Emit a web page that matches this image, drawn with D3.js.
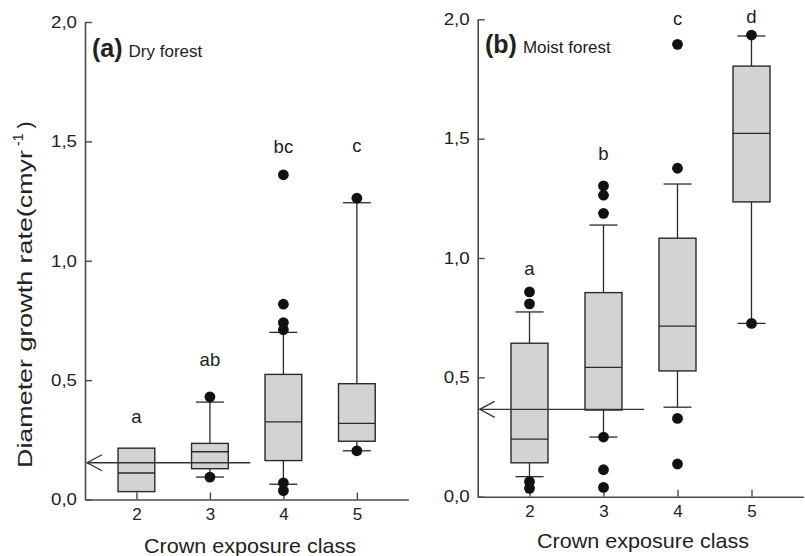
<!DOCTYPE html>
<html>
<head>
<meta charset="utf-8">
<script src="https://cdn.jsdelivr.net/npm/d3@7"></script>
<style>
  html, body { margin: 0; padding: 0; background: #fff; }
  text { font-family: "Liberation Sans", Arial, Helvetica, sans-serif; fill: #222; }
</style>
</head>
<body>
<svg id="chart" width="805" height="556"></svg>
<script>
// ---- data ----
const classes = [2, 3, 4, 5];
const yTicks = [0, 0.5, 1.0, 1.5, 2.0];
const yTickLabels = ["0,0", "0,5", "1,0", "1,5", "2,0"];

// (a) Dry forest
const dryQ1 = [0.033, 0.129, 0.163, 0.244];
const dryMedian = [0.111, 0.200, 0.325, 0.319];
const dryQ3 = [0.215, 0.235, 0.524, 0.485];
const dryLowWhisker = [0.033, 0.094, 0.064, 0.204];
const dryHighWhisker = [0.215, 0.408, 0.700, 1.243];
const dryOutliers = [[], [0.430, 0.094], [1.360, 0.818, 0.741, 0.711, 0.070, 0.037], [1.262, 0.204]];
const dryLetters = ["a", "ab", "bc", "c"];
const dryLetterY = [0.32, 0.56, 1.45, 1.456];
const dryMean = 0.154;

// (b) Moist forest
const moistQ1 = [0.142, 0.363, 0.527, 1.235];
const moistMedian = [0.241, 0.542, 0.715, 1.522];
const moistQ3 = [0.643, 0.855, 1.083, 1.804];
const moistLowWhisker = [0.084, 0.250, 0.375, 0.726];
const moistHighWhisker = [0.774, 1.138, 1.310, 1.930];
const moistOutliers = [[0.858, 0.808, 0.063, 0.035], [1.302, 1.263, 1.187, 0.250, 0.113, 0.039], [1.895, 1.376, 0.328, 0.137], [1.934, 0.726]];
const moistLetters = ["a", "b", "c", "d"];
const moistLetterY = [0.929, 1.409, 1.976, 1.984];
const moistMean = 0.366;

const svg = d3.select("#chart");
const axisColor = "#4a4a4a";
const boxStroke = "#2a2a2a";

function panel(cfg) {
  const x = d3.scaleLinear().domain([1.3, 5.7]).range([cfg.x0, cfg.x1]);
  const y = d3.scaleLinear().domain([0, 2]).range([cfg.y0, cfg.y1]);
  const g = svg.append("g");

  // axes
  const xAxis = d3.axisBottom(x).tickValues(classes).tickSize(-7).tickPadding(8).tickSizeOuter(0).tickFormat(d3.format("d"));
  const gx = g.append("g").attr("transform", `translate(0,${cfg.y0})`).call(xAxis);
  const yAxis = d3.axisLeft(y).tickValues(yTicks).tickSize(-7).tickPadding(8).tickSizeOuter(0)
    .tickFormat((d, i) => yTickLabels[i]);
  const gy = g.append("g").attr("transform", `translate(${cfg.x0},0)`).call(yAxis);
  [gx, gy].forEach(a => {
    a.select(".domain").attr("stroke", axisColor).attr("stroke-width", 1.6);
    a.selectAll(".tick line").attr("stroke", axisColor).attr("stroke-width", 1.4);
    a.selectAll(".tick text").attr("fill", "#222")
      .style("font-family", "Liberation Sans, Arial, sans-serif");
  });
  gx.selectAll(".tick text").style("font-size", "17px").attr("dy", "0.75em");
  gy.selectAll(".tick text").style("font-size", "16.5px")
    .attr("textLength", 26).attr("lengthAdjust", "spacingAndGlyphs");

  const half = (x(2.25) - x(1.75)) / 2;
  const capHalf = 14;

  classes.forEach((c, i) => {
    const cx = x(c);
    // whiskers
    if (cfg.hi[i] > cfg.q3[i]) {
      g.append("line").attr("x1", cx).attr("x2", cx).attr("y1", y(cfg.q3[i])).attr("y2", y(cfg.hi[i]))
        .attr("stroke", boxStroke).attr("stroke-width", 1.3);
      g.append("line").attr("x1", cx - capHalf).attr("x2", cx + capHalf).attr("y1", y(cfg.hi[i])).attr("y2", y(cfg.hi[i]))
        .attr("stroke", boxStroke).attr("stroke-width", 1.3);
    }
    if (cfg.lo[i] < cfg.q1[i]) {
      g.append("line").attr("x1", cx).attr("x2", cx).attr("y1", y(cfg.q1[i])).attr("y2", y(cfg.lo[i]))
        .attr("stroke", boxStroke).attr("stroke-width", 1.3);
      g.append("line").attr("x1", cx - capHalf).attr("x2", cx + capHalf).attr("y1", y(cfg.lo[i])).attr("y2", y(cfg.lo[i]))
        .attr("stroke", boxStroke).attr("stroke-width", 1.3);
    }
    // box
    g.append("rect").attr("x", cx - half).attr("width", 2 * half)
      .attr("y", y(cfg.q3[i])).attr("height", y(cfg.q1[i]) - y(cfg.q3[i]))
      .attr("fill", "#d3d3d3").attr("stroke", boxStroke).attr("stroke-width", 1.4);
    g.append("line").attr("x1", cx - half).attr("x2", cx + half).attr("y1", y(cfg.med[i])).attr("y2", y(cfg.med[i]))
      .attr("stroke", boxStroke).attr("stroke-width", 1.3);
    // outliers
    cfg.out[i].forEach(v => {
      g.append("circle").attr("cx", cx).attr("cy", y(v)).attr("r", 5.4).attr("fill", "#111");
    });
    // letters
    g.append("text").attr("x", cx).attr("y", y(cfg.letY[i])).attr("text-anchor", "middle")
      .style("font-size", "18.5px").text(cfg.letters[i]);
  });

  // mean arrow
  const ym = y(cfg.mean);
  g.append("line").attr("x1", cfg.x0 + 2).attr("x2", x(3.55)).attr("y1", ym).attr("y2", ym)
    .attr("stroke", "#333").attr("stroke-width", 1.4);
  g.append("path").attr("d", `M${cfg.x0 + 17},${ym - 8} L${cfg.x0 + 2},${ym} L${cfg.x0 + 17},${ym + 8}`)
    .attr("fill", "none").attr("stroke", "#333").attr("stroke-width", 1.3);

  // title
  const t = g.append("text").attr("x", cfg.tx).attr("y", cfg.ty);
  t.append("tspan").style("font-weight", "bold").style("font-size", "25px").text(cfg.tag);
  t.append("tspan").attr("dx", 6).style("font-size", "17px").text(cfg.title);

  // x title
  g.append("text").attr("x", cfg.xtx).attr("y", cfg.xty).attr("text-anchor", "middle")
    .style("font-size", "21px").attr("textLength", 212).attr("lengthAdjust", "spacingAndGlyphs")
    .text("Crown exposure class");
}

panel({ x0: 85, x1: 408.3, y0: 499.5, y1: 22,
  q1: dryQ1, med: dryMedian, q3: dryQ3, lo: dryLowWhisker, hi: dryHighWhisker, out: dryOutliers,
  letters: dryLetters, letY: dryLetterY, mean: dryMean,
  tag: "(a)", title: "Dry forest", tx: 92, ty: 57, xtx: 250, xty: 553 });

panel({ x0: 477.7, x1: 803.3, y0: 496.7, y1: 19.3,
  q1: moistQ1, med: moistMedian, q3: moistQ3, lo: moistLowWhisker, hi: moistHighWhisker, out: moistOutliers,
  letters: moistLetters, letY: moistLetterY, mean: moistMean,
  tag: "(b)", title: "Moist forest", tx: 485, ty: 53, xtx: 643, xty: 548 });

// y axis title
const yl = svg.append("text").attr("transform", "translate(32,468) rotate(-90)").attr("text-anchor", "start")
  .style("font-size", "21px");
yl.append("tspan").attr("textLength", 318).attr("lengthAdjust", "spacingAndGlyphs").text("Diameter growth rate(cmyr");
yl.append("tspan").attr("dx", 4).attr("dy", -9).style("font-size", "14px").text("-1");
yl.append("tspan").attr("dx", 5).attr("dy", 9).text(")");
</script>
</body>
</html>
